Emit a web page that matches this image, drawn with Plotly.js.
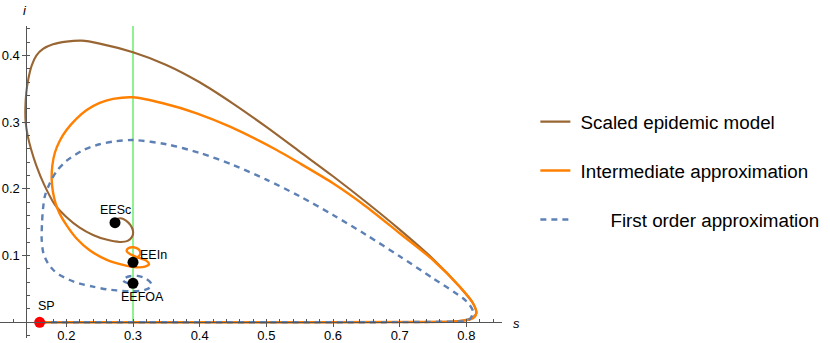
<!DOCTYPE html>
<html>
<head>
<meta charset="utf-8">
<script src="https://cdn.plot.ly/plotly-3.0.1.min.js"></script>
<style>html,body{margin:0;padding:0;background:#fff;}#chart{width:830px;height:343px;}</style>
</head>
<body>
<div id="chart"></div>
<script>
// Scaled epidemic model trajectory
const scS = [0.16,0.40,0.70,0.78,0.795,0.808,0.815,0.81,0.79,0.75,0.70,0.65,0.60,0.55,0.50,0.45,0.40,0.35,0.30,0.25,0.223,0.20,0.18,0.165,0.155,0.148,0.143,0.140,0.1385,0.139,0.142,0.147,0.155,0.166,0.183,0.20,0.22,0.24,0.26,0.28,0.292,0.299,0.300,0.296,0.289,0.281,0.275,0.273];
const scI = [0,0,0.0003,0.001,0.0025,0.006,0.0135,0.0285,0.0534,0.095,0.139,0.180,0.219,0.256,0.293,0.328,0.360,0.386,0.405,0.418,0.4224,0.421,0.417,0.410,0.400,0.385,0.365,0.345,0.32,0.30,0.28,0.26,0.235,0.208,0.176,0.158,0.142,0.131,0.124,0.1205,0.122,0.129,0.137,0.146,0.153,0.156,0.154,0.1494];
// Intermediate approximation trajectory
const inS = [0.16,0.50,0.70,0.78,0.795,0.81,0.815,0.81,0.79,0.75,0.70,0.65,0.60,0.55,0.5155,0.4455,0.3955,0.345,0.30,0.27,0.25,0.23,0.215,0.20,0.19,0.183,0.179,0.178,0.18,0.184,0.19,0.20,0.215,0.235,0.26,0.285,0.305,0.318,0.324,0.320,0.307,0.296,0.2905,0.293,0.301,0.309,0.311,0.307,0.302,0.30];
const inI = [0,0,0.0003,0.001,0.0024,0.006,0.0135,0.0285,0.0534,0.0934,0.1335,0.1734,0.2085,0.2385,0.2584,0.2934,0.3135,0.3285,0.3375,0.335,0.329,0.318,0.305,0.288,0.272,0.255,0.235,0.215,0.195,0.178,0.163,0.146,0.126,0.108,0.094,0.086,0.0825,0.0835,0.087,0.0925,0.0975,0.102,0.107,0.111,0.1125,0.109,0.103,0.097,0.0925,0.09];
// First order approximation trajectory
const foS = [0.16,0.50,0.70,0.78,0.80,0.806,0.81,0.805,0.795,0.75,0.70,0.65,0.60,0.55,0.50,0.45,0.40,0.35,0.30,0.27,0.25,0.225,0.20,0.185,0.175,0.168,0.165,0.1635,0.163,0.1655,0.172,0.1805,0.19,0.205,0.22,0.24,0.26,0.2755,0.295,0.31,0.322,0.328,0.326,0.318,0.307,0.295,0.287,0.285,0.29,0.299];
const foI = [0,0,0.0002,0.001,0.002,0.0055,0.016,0.026,0.036,0.066,0.099,0.131,0.161,0.189,0.214,0.236,0.254,0.267,0.2734,0.271,0.267,0.258,0.242,0.226,0.208,0.19,0.17,0.148,0.125,0.104,0.089,0.0784,0.071,0.0634,0.058,0.0534,0.0495,0.0478,0.0465,0.047,0.050,0.055,0.06,0.066,0.0695,0.069,0.066,0.0625,0.0595,0.0585];
// threshold line s = 0.3
const thrS = [0.3,0.3];
const thrI = [0,0.45];
// equilibria
const eqNames = ["EESc","EEIn","EEFOA"];
const eqS = [0.273,0.3,0.3];
const eqI = [0.1494,0.09,0.0585];
const spName = "SP";
const spS = [0.16];
const spI = [0];
const xTicks = [0.2,0.3,0.4,0.5,0.6,0.7,0.8];
const yTicks = [0.1,0.2,0.3,0.4];
const names = ["\u00a0Scaled epidemic model","\u00a0Intermediate approximation","\u00a0\u00a0\u00a0\u00a0\u00a0\u00a0\u2009First order approximation"];

const F = "Liberation Sans, Arial, sans-serif";
const traces = [
  {x:thrS,y:thrI,mode:'lines',line:{color:'#84f084',width:1.8},showlegend:false,hoverinfo:'skip'},
  {x:scS,y:scI,mode:'lines',name:names[0],legendgroup:'a',line:{color:'#996633',width:2.1,shape:'spline',smoothing:0.8}},
  {x:inS,y:inI,mode:'lines',name:names[1],legendgroup:'b',line:{color:'#ff8000',width:2.4,shape:'spline',smoothing:0.8}},
  {x:foS,y:foI,mode:'lines',name:names[2],legendgroup:'c',line:{color:'#5e81b5',width:2.4,dash:'6px,5px',shape:'spline',smoothing:0.8}},
  {x:eqS,y:eqI,mode:'markers',marker:{color:'#000',size:11},showlegend:false},
  {x:spS,y:spI,mode:'markers',marker:{color:'#ff0000',size:11},showlegend:false}
];
const shifts = [[0,13],[20,7],[9,-14]];
const annotations = eqNames.map((t,k)=>({x:eqS[k],y:eqI[k],xref:'x',yref:'y',text:t,showarrow:false,xshift:shifts[k][0],yshift:shifts[k][1],font:{family:F,size:12.5,color:'#000'}}));
annotations.push({x:spS[0],y:spI[0],xref:'x',yref:'y',text:spName,showarrow:false,xshift:7,yshift:16,font:{family:F,size:12.5,color:'#000'}});
annotations.push({x:1.029,y:0.048,xref:'paper',yref:'paper',xanchor:'center',yanchor:'middle',text:'<i>s</i>',showarrow:false,font:{family:F,size:13,color:'#000'}});
annotations.push({x:0.05,y:1.051,xref:'paper',yref:'paper',xanchor:'center',yanchor:'middle',text:'<i>i</i>',showarrow:false,font:{family:F,size:13,color:'#000'}});

const layout = {
  width:830,height:343,
  margin:{l:0,r:328,t:26,b:5},
  paper_bgcolor:'#fff',plot_bgcolor:'#fff',
  font:{family:F,size:13,color:'#000'},
  xaxis:{range:[0.1005,0.8535],anchor:'free',position:0.0504,showgrid:false,zeroline:false,showline:true,linecolor:'#555',linewidth:1,
    tickmode:'array',tickvals:xTicks,ticks:'outside',ticklen:4,tickcolor:'#555',ticklabelstandoff:-3,tickfont:{family:F,size:13,color:'#000'},
    minor:{dtick:0.02,tick0:0,ticks:'inside',ticklen:3,tickcolor:'#555'}},
  yaxis:{range:[-0.0236,0.4444],anchor:'free',position:0.0525,showgrid:false,zeroline:false,showline:true,linecolor:'#555',linewidth:1,
    tickmode:'array',tickvals:yTicks,ticks:'outside',ticklen:4,tickcolor:'#555',tickfont:{family:F,size:13,color:'#000'},
    minor:{dtick:0.02,tick0:0,ticks:'inside',ticklen:3,tickcolor:'#555'}},
  legend:{xref:'container',yref:'container',x:0.645,y:0.70,xanchor:'left',yanchor:'top',traceorder:'grouped',tracegroupgap:21.5,
    font:{family:F,size:18.8,color:'#000'},bgcolor:'rgba(0,0,0,0)'},
  annotations:annotations,
  showlegend:true
};
Plotly.newPlot('chart',traces,layout,{displayModeBar:false,staticPlot:true});
</script>
</body>
</html>
